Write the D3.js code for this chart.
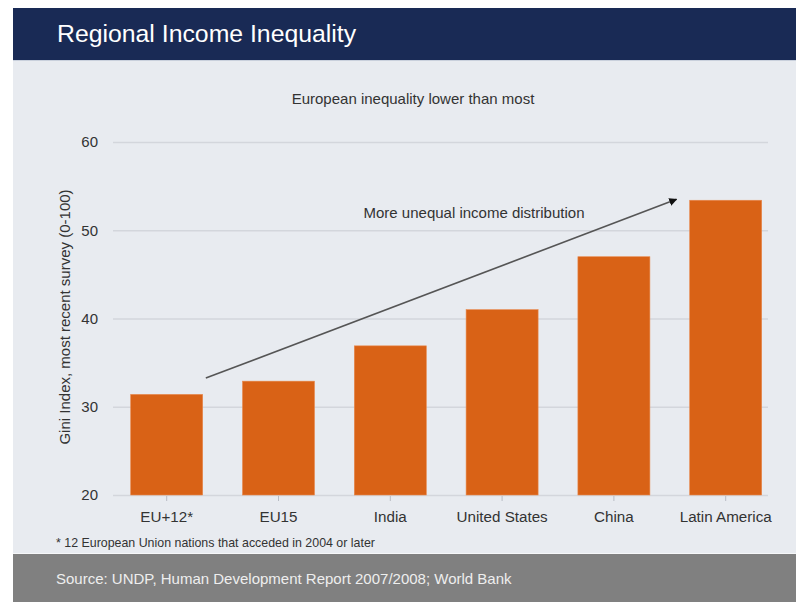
<!DOCTYPE html>
<html>
<head>
<meta charset="utf-8">
<script src="https://cdn.jsdelivr.net/npm/d3@7"></script>
<style>
  html, body { margin: 0; padding: 0; background: #ffffff; }
  svg { display: block; font-family: "Liberation Sans", Arial, sans-serif; }
</style>
</head>
<body>
<svg id="chart" width="796" height="602"></svg>
<script>
// Gini index by region (most recent survey)
const categories = ["EU+12*", "EU15", "India", "United States", "China", "Latin America"];
const giniValues = [31.4, 32.9, 36.9, 41.0, 47.0, 53.4];
const yTicks = [20, 30, 40, 50, 60];

const titleText = "Regional Income Inequality";
const subtitleText = "European inequality lower than most";
const yAxisLabel = "Gini Index, most recent survey (0-100)";
const arrowLabel = "More unequal income distribution";
const footnoteText = "* 12 European Union nations that acceded in 2004 or later";
const sourceText = "Source: UNDP, Human Development Report 2007/2008; World Bank";

// Trend arrow in data space: [category position (0 = first bar centre), Gini value]
const arrowStart = [0.35, 33.25];
const arrowEnd = [4.56, 53.5];

const svg = d3.select("#chart");

// Panel backgrounds
svg.append("rect").attr("x", 13).attr("y", 8).attr("width", 783).attr("height", 594).attr("fill", "#e8ebf0");
svg.append("rect").attr("x", 13).attr("y", 8).attr("width", 783).attr("height", 52).attr("fill", "#192a55");
svg.append("line").attr("x1", 13).attr("x2", 796).attr("y1", 60.5).attr("y2", 60.5).attr("stroke", "#c9d0dc").attr("stroke-width", 1);
svg.append("rect").attr("x", 13).attr("y", 554).attr("width", 783).attr("height", 48).attr("fill", "#808080");
svg.append("line").attr("x1", 13).attr("x2", 796).attr("y1", 553.5).attr("y2", 553.5).attr("stroke", "#f6f7f9").attr("stroke-width", 1);

// Titles
svg.append("text").attr("x", 57).attr("y", 42).attr("fill", "#ffffff")
  .attr("font-size", 24.8).text(titleText);
svg.append("text").attr("x", 413).attr("y", 104).attr("text-anchor", "middle")
  .attr("fill", "#333333").attr("font-size", 15).text(subtitleText);

// Scales
const x = d3.scaleBand().domain(categories).range([110.8, 781.6]).paddingInner(0.356).paddingOuter(0.178);
const y = d3.scaleLinear().domain([20, 60]).range([495, 142]);
const gridLeft = 113, gridRight = 768;

// Position helper for the annotation arrow (category index -> pixel)
const idx = d3.scaleLinear().domain([0, categories.length - 1])
  .range([x(categories[0]) + x.bandwidth() / 2, x(categories[categories.length - 1]) + x.bandwidth() / 2]);

// Gridlines
svg.append("g").selectAll("line").data(yTicks).join("line")
  .attr("x1", gridLeft).attr("x2", gridRight)
  .attr("y1", d => y(d) + 0.5).attr("y2", d => y(d) + 0.5)
  .attr("stroke", "#d3d6dc").attr("stroke-width", 1.5);

// Y axis labels
const yAxis = d3.axisLeft(y).tickValues(yTicks).tickSize(0).tickPadding(0);
const gy = svg.append("g").attr("transform", "translate(98,0)").call(yAxis);
gy.select(".domain").remove();
gy.selectAll("text").attr("font-size", 15).attr("fill", "#333333")
  .style("font-family", "'Liberation Sans', Arial, sans-serif");

// Y axis title
svg.append("text")
  .attr("transform", "translate(70,317) rotate(-90)")
  .attr("text-anchor", "middle").attr("fill", "#333333").attr("font-size", 15)
  .text(yAxisLabel);

// Bars
svg.append("g").selectAll("rect").data(categories).join("rect")
  .attr("x", d => x(d))
  .attr("width", x.bandwidth())
  .attr("y", (d, i) => y(giniValues[i]))
  .attr("height", (d, i) => y(20) - y(giniValues[i]))
  .attr("fill", "#d96216")
  .attr("stroke", "#e8894d").attr("stroke-width", 0.6);

// X axis
const xAxis = d3.axisBottom(x).tickSize(6).tickPadding(10).tickSizeOuter(0);
const gx = svg.append("g").attr("transform", `translate(0,${y(20)})`).call(xAxis);
gx.select(".domain").remove();
gx.selectAll(".tick line").attr("stroke", "#b8bcc4").attr("y1", 1);
gx.selectAll("text").attr("font-size", 15.2).attr("fill", "#333333")
  .style("font-family", "'Liberation Sans', Arial, sans-serif");

// Trend arrow
svg.append("defs").append("marker")
  .attr("id", "arrowhead").attr("viewBox", "0 0 10 10")
  .attr("refX", 9).attr("refY", 5)
  .attr("markerWidth", 5).attr("markerHeight", 5)
  .attr("orient", "auto")
  .append("path").attr("d", "M0,0 L10,5 L0,10 Z").attr("fill", "#111111");

svg.append("line")
  .attr("x1", idx(arrowStart[0])).attr("y1", y(arrowStart[1]))
  .attr("x2", idx(arrowEnd[0])).attr("y2", y(arrowEnd[1]))
  .attr("stroke", "#555555").attr("stroke-width", 1.6)
  .attr("marker-end", "url(#arrowhead)");

svg.append("text").attr("x", 474).attr("y", 218).attr("text-anchor", "middle")
  .attr("fill", "#333333").attr("font-size", 15).text(arrowLabel);

// Footnote and source
svg.append("text").attr("x", 56).attr("y", 547).attr("fill", "#333333")
  .attr("font-size", 12.4).text(footnoteText);
svg.append("text").attr("x", 56).attr("y", 584).attr("fill", "#eeeeee")
  .attr("font-size", 15).text(sourceText);
</script>
</body>
</html>
